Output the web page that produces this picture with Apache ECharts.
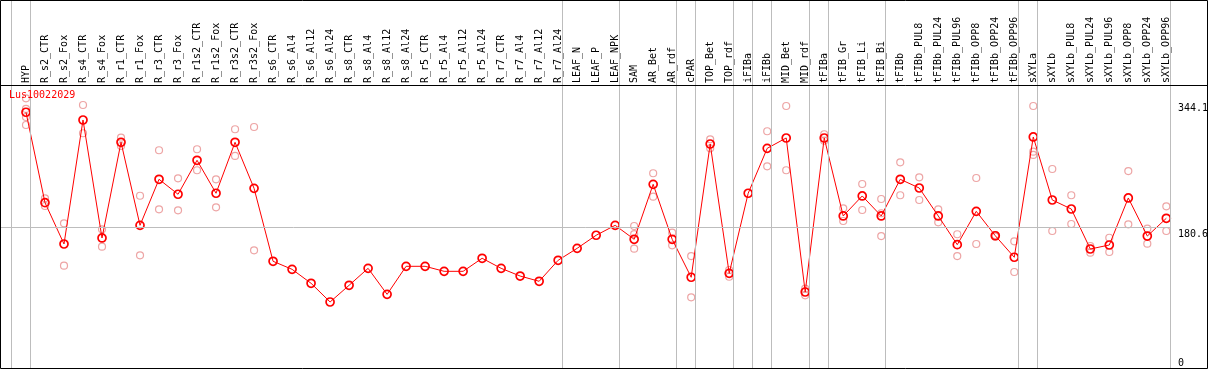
<!DOCTYPE html>
<html>
<head>
<meta charset="utf-8">
<script src="https://cdn.jsdelivr.net/npm/echarts@6/dist/echarts.min.js"></script>
<style>
html,body{margin:0;padding:0;background:#fff;}
#chart{width:1209px;height:370px;}
</style>
</head>
<body>
<div id="chart"></div>
<script>
const chartTitle = 'Lus10022029';
const categories = ['HYP','R_s2_CTR','R_s2_Fox','R_s4_CTR','R_s4_Fox','R_r1_CTR','R_r1_Fox','R_r3_CTR','R_r3_Fox','R_r1s2_CTR','R_r1s2_Fox','R_r3s2_CTR','R_r3s2_Fox','R_s6_CTR','R_s6_Al4','R_s6_Al12','R_s6_Al24','R_s8_CTR','R_s8_Al4','R_s8_Al12','R_s8_Al24','R_r5_CTR','R_r5_Al4','R_r5_Al12','R_r5_Al24','R_r7_CTR','R_r7_Al4','R_r7_Al12','R_r7_Al24','LEAF_N','LEAF_P','LEAF_NPK','SAM','AR_Bet','AR_rdf','cPAR','TOP_Bet','TOP_rdf','iFIBa','iFIBb','MID_Bet','MID_rdf','tFIBa','tFIB_Gr','tFIB_Li','tFIB_Bi','tFIBb','tFIBb_PUL8','tFIBb_PUL24','tFIBb_PUL96','tFIBb_OPP8','tFIBb_OPP24','tFIBb_OPP96','sXYLa','sXYLb','sXYLb_PUL8','sXYLb_PUL24','sXYLb_PUL96','sXYLb_OPP8','sXYLb_OPP24','sXYLb_OPP96'];
const means = [330.1,213.0,159.5,320.1,167.3,291.2,183.7,243.3,223.9,267.9,225.2,291.2,231.6,137.1,126.7,108.6,84.4,106.0,128.0,94.3,130.6,130.6,124.1,124.1,141.0,128.0,118.0,111.2,138.4,153.9,170.8,183.7,165.6,236.8,165.6,116.4,289.0,121.5,225.2,283.4,296.8,97.3,296.8,195.8,221.7,195.8,243.3,232.0,195.8,158.6,201.8,170.2,142.3,298.1,216.5,204.8,153.0,158.2,219.1,169.8,192.8];
const replicates = [
  [348.2,334.4,324.0,313.6],[218.7,208.7],[186.3,131.4],[339.5,302.9],[178.5,156.0],
  [297.2,286.4],[222.0,144.8],[280.9,204.4],[244.6,203.1],[282.2,255.0],
  [243.3,207.0],[308.1,273.5],[311.0,151.3],[],[],
  [],[],[],[],[],
  [],[],[],[],[],
  [],[],[],[],[],
  [],[],[182.8,172.4,153.4],[251.1,220.8],[174.1,157.8],
  [143.9,90.4],[295.1,283.4],[125.8,117.1],[],[305.5,260.1],
  [338.2,255.0],[101.6,93.0],[301.6,293.3],[205.7,189.3],[237.2,203.5],
  [217.8,199.3,169.8],[265.3,222.6],[245.9,216.5],[204.4,187.6],[172.1,143.9],
  [245.0,159.5],[171.0,169.0],[163.0,123.2],[338.2,279.0,274.8],[256.6,176.3],
  [222.6,185.4],[156.9,148.2],[167.6,149.1],[254.0,185.0],[179.3,159.9],
  [208.3,176.3]
];
const groupEnds = [-1,0,28,31,34,35,37,38,39,41,42,45,52,53,60];
const yTickValues = [0, 180.6, 344.1];
const refLineValue = 180.6;

const meanData = means.map((v, i) => [i, v]);
const repData = [];
replicates.forEach((arr, i) => arr.forEach(v => repData.push([i, v])));
const idx = categories.map((c, i) => i);

const mono = 'DejaVu Sans Mono';
const chart = echarts.init(document.getElementById('chart'), null, {renderer: 'canvas'});
chart.setOption({
  animation: false,
  backgroundColor: '#fff',
  title: {
    text: chartTitle, left: 9, top: 90, padding: 0,
    textStyle: {color: '#ff0000', fontSize: 10, fontFamily: mono, fontWeight: 'normal'}
  },
  grid: {left: 1, right: 38.5, top: 1, bottom: 2, containLabel: false, outerBoundsMode: 'none'},
  xAxis: {
    type: 'value', position: 'top', offset: -84,
    min: -1.315, max: 60.22,
    axisLine: {show: false}, axisTick: {show: false}, splitLine: {show: false},
    axisLabel: {
      customValues: idx, rotate: 90, margin: 2,
      fontFamily: mono, fontSize: 10, color: '#000',
      formatter: v => categories[Math.round(v)] || ''
    }
  },
  yAxis: {
    type: 'value', position: 'right', min: -1.1, max: 474.2,
    axisLine: {show: false}, axisTick: {show: false}, splitLine: {show: false},
    axisLabel: {
      customValues: yTickValues, margin: 7.5, color: '#000',
      fontFamily: mono, fontSize: 10, align: 'left',
      formatter: v => v === 0 ? '{z|0}' : '{a|' + v + '}',
      rich: {
        a: {fontFamily: mono, fontSize: 10, color: '#000', padding: [13, 0, 0, 0]},
        z: {fontFamily: mono, fontSize: 10, color: '#000', padding: [0, 0, 7, 0]}
      }
    }
  },
  series: [
    {
      type: 'scatter', data: repData, z: 1,
      symbol: 'circle', symbolSize: 7,
      itemStyle: {color: 'rgba(0,0,0,0)', borderColor: '#e88e8e', borderWidth: 1.2},
      markLine: {
        silent: true, symbol: ['none', 'none'], label: {show: false},
        lineStyle: {color: '#bdbdbd', type: 'solid', width: 1},
        data: groupEnds.map(g => ({xAxis: g + 0.22})).concat([{yAxis: refLineValue}])
      }
    },
    {
      type: 'line', data: meanData, z: 3,
      symbol: 'circle', symbolSize: 8,
      lineStyle: {color: '#ff0000', width: 1},
      itemStyle: {color: 'rgba(0,0,0,0)', borderColor: '#ff0000', borderWidth: 1.7}
    }
  ],
  graphic: [
    {type: 'rect', shape: {x: 0.5, y: 0.5, width: 1207, height: 368}, style: {fill: null, stroke: '#000', lineWidth: 1}, z: 10},
    {type: 'line', shape: {x1: 0.5, y1: 85.5, x2: 1207.5, y2: 85.5}, style: {stroke: '#000', lineWidth: 1}, z: 10}
  ]
});
</script>
</body>
</html>
